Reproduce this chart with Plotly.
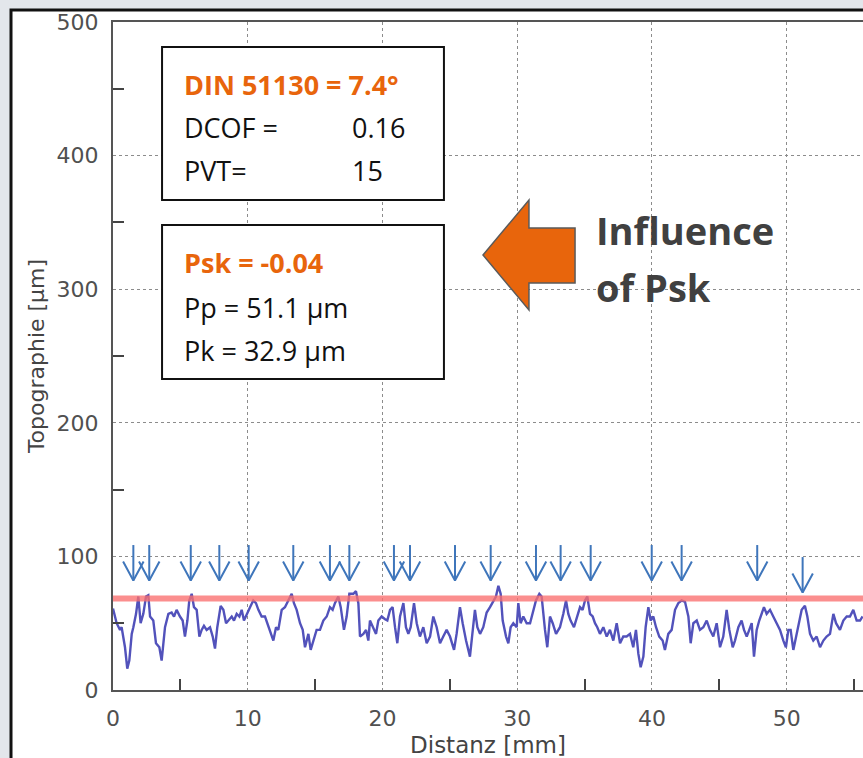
import plotly.graph_objects as go

# ---------------- data ----------------
dist_mm = [0.00, 0.27, 0.52, 0.64, 0.89, 1.06, 1.21, 1.39, 1.51, 1.71, 1.88, 2.05, 2.25, 2.45, 2.62, 2.75, 2.99,
           3.19, 3.44, 3.61, 3.74, 3.86, 4.11, 4.35, 4.53, 4.72, 4.97, 5.17, 5.34, 5.52, 5.66, 5.84, 6.01, 6.21,
           6.41, 6.58, 6.75, 6.95, 7.20, 7.40, 7.57, 7.74, 7.99, 8.19, 8.39, 8.56, 8.81, 8.98, 9.18, 9.38, 9.55,
           9.72, 9.92, 10.17, 10.41, 10.61, 10.79, 11.03, 11.28, 11.53, 11.70, 11.90, 12.10, 12.27, 12.52, 12.76,
           13.01, 13.26, 13.43, 13.63, 13.88, 14.08, 14.25, 14.50, 14.67, 14.87, 15.11, 15.36, 15.61, 15.86,
           16.10, 16.30, 16.47, 16.72, 16.90, 17.14, 17.34, 17.54, 17.84, 18.03, 18.21, 18.33, 18.58, 18.78,
           18.95, 19.07, 19.32, 19.52, 19.69, 19.94, 20.19, 20.36, 20.56, 20.75, 20.93, 21.10, 21.30, 21.55,
           21.74, 21.92, 22.09, 22.34, 22.54, 22.78, 23.03, 23.28, 23.53, 23.77, 24.02, 24.27, 24.51, 24.76,
           25.01, 25.31, 25.50, 25.75, 25.95, 26.20, 26.49, 26.69, 26.86, 27.04, 27.24, 27.48, 27.73, 27.98,
           28.22, 28.42, 28.60, 28.77, 28.92, 29.17, 29.34, 29.51, 29.71, 29.96, 30.08, 30.25, 30.45, 30.70,
           30.95, 31.19, 31.39, 31.64, 31.81, 32.06, 32.23, 32.43, 32.63, 32.88, 33.17, 33.42, 33.62, 33.79,
           33.96, 34.21, 34.46, 34.66, 34.85, 35.03, 35.20, 35.40, 35.60, 35.77, 35.94, 36.14, 36.39, 36.64,
           36.88, 37.13, 37.38, 37.63, 37.87, 38.12, 38.37, 38.61, 38.81, 38.99, 39.16, 39.36, 39.53, 39.73,
           39.90, 40.10, 40.30, 40.54, 40.79, 40.96, 41.21, 41.46, 41.71, 41.95, 42.20, 42.45, 42.70, 42.87,
           43.07, 43.32, 43.56, 43.81, 44.06, 44.30, 44.55, 44.80, 45.05, 45.29, 45.54, 45.74, 45.99, 46.16,
           46.41, 46.65, 46.83, 47.03, 47.22, 47.40, 47.57, 47.77, 47.96, 48.14, 48.31, 48.51, 48.76, 49.00,
           49.25, 49.50, 49.75, 49.94, 50.12, 50.29, 50.49, 50.69, 50.94, 51.11, 51.35, 51.53, 51.73, 51.97,
           52.22, 52.47, 52.72, 52.96, 53.21, 53.46, 53.66, 53.95, 54.20, 54.45, 54.69, 54.94, 55.19, 55.44,
           55.63]
topo_um = [61, 50, 45, 47, 32, 16, 22, 42, 47, 57, 70, 50, 57, 70, 71, 55, 52,
           35, 32, 22, 35, 47, 57, 58, 55, 60, 55, 52, 40, 52, 67, 72, 62, 60,
           40, 45, 48, 45, 47, 40, 31, 47, 63, 60, 50, 52, 55, 52, 57, 55, 60,
           52, 57, 62, 67, 65, 60, 55, 55, 47, 42, 37, 47, 45, 60, 62,
           67, 72, 65, 60, 50, 45, 32, 42, 30, 37, 45, 45, 52, 55,
           62, 60, 65, 70, 62, 45, 55, 72, 72, 74, 65, 40, 42, 45,
           37, 52, 47, 42, 52, 55, 53, 52, 60, 62, 47, 35, 55, 65,
           47, 42, 47, 65, 50, 40, 47, 35, 40, 55, 47, 35, 40, 45,
           40, 30, 42, 62, 50, 37, 25, 47, 60, 47, 42, 47, 58, 62,
           67, 70, 78, 72, 52, 40, 35, 47, 50, 47, 65, 50, 55, 50,
           50, 60, 67, 72, 70, 45, 32, 55, 50, 42, 47, 57, 67, 57,
           52, 47, 55, 62, 60, 67, 70, 57, 55, 50, 47, 42, 47, 40,
           45, 37, 50, 35, 40, 40, 42, 32, 45, 27, 17, 25, 47, 62,
           52, 55, 47, 40, 37, 30, 42, 45, 60, 65, 67, 66, 55, 35,
           50, 52, 45, 47, 52, 45, 40, 50, 32, 40, 60, 45, 32, 37,
           47, 52, 45, 40, 45, 50, 25, 45, 52, 57, 62, 57, 60, 55,
           50, 45, 37, 32, 45, 45, 30, 40, 50, 60, 63, 55, 42, 37,
           40, 32, 37, 40, 42, 57, 50, 45, 52, 55, 55, 60, 52, 52,
           55]

threshold_um = 68.5  # red reference level

peak_marks_mm = [1.51, 2.69, 5.77, 7.89, 10.07, 13.38, 16.10, 17.54, 20.85, 22.04, 25.38,
                 28.03, 31.39, 33.22, 35.45, 39.98, 42.20, 47.81, 51.18]
peak_mark_tip_um = [82, 82, 82, 82, 82, 82, 82, 82, 82, 82, 82,
                    82, 82, 82, 82, 82, 82, 82, 73]

x_ticks = [0, 10, 20, 30, 40, 50]
y_ticks = [0, 100, 200, 300, 400, 500]

X_MAX = 55.66
Y_MAX = 500

# ---------------- figure ----------------
fig = go.Figure()

fig.add_trace(go.Scatter(x=dist_mm, y=topo_um, mode="lines",
                         line=dict(color="#5252bb", width=2.4), hoverinfo="skip"))

fig.add_trace(go.Scatter(x=[0, X_MAX], y=[threshold_um, threshold_um], mode="lines",
                         line=dict(color="rgba(250,110,110,0.78)", width=6), hoverinfo="skip"))

# downward arrows marking peaks
ARROW_LEN = 26.5
HEAD_LEN = 14.2
HEAD_HALF = 0.76
ax, ay = [], []
for xm, tip in zip(peak_marks_mm, peak_mark_tip_um):
    ax += [xm, xm, None, xm - HEAD_HALF, xm, xm + HEAD_HALF, None]
    ay += [tip + ARROW_LEN, tip, None, tip + HEAD_LEN, tip, tip + HEAD_LEN, None]
fig.add_trace(go.Scatter(x=ax, y=ay, mode="lines",
                         line=dict(color="#3f76bb", width=2), hoverinfo="skip"))

shapes = [
    # outer black frame
    dict(type="rect", xref="paper", yref="paper", x0=-0.136, x1=1.2, y0=-0.3, y1=1.018,
         line=dict(color="#111111", width=3), fillcolor="white", layer="below"),
    # info boxes
    dict(type="rect", xref="x", yref="y", x0=3.64, x1=24.56, y0=366.8, y1=481.3,
         line=dict(color="#111111", width=2), fillcolor="white"),
    dict(type="rect", xref="x", yref="y", x0=3.64, x1=24.56, y0=232.8, y1=348.1,
         line=dict(color="#111111", width=2), fillcolor="white"),
    # orange block arrow
    dict(type="path", xref="x", yref="y",
         path="M 27.46,325.6 L 30.87,366.8 L 30.87,345.8 L 34.29,345.8 L 34.29,304.6 "
              "L 30.87,304.6 L 30.87,284.4 Z",
         fillcolor="#e8650c", line=dict(color="#5a5a5a", width=1.5)),
]

OR = "#e8650c"
BOX_FONT = "Open Sans"
ann = []
def txt(x, y, s, color="#111111", size=27, bold=False):
    ann.append(dict(x=x, y=y, xref="x", yref="y", text=(f"<b>{s}</b>" if bold else s),
                    showarrow=False, xanchor="left", yanchor="middle",
                    font=dict(family=BOX_FONT, size=size, color=color)))

txt(5.12, 453, "DIN 51130 = 7.4°", OR, bold=True)
txt(5.12, 421, "DCOF =")
txt(17.59, 421, "0.16")
txt(5.12, 389, "PVT=")
txt(17.59, 389, "15")
txt(5.12, 320, "Psk = -0.04", OR, bold=True)
txt(5.12, 286, "Pp = 51.1 µm")
txt(5.12, 254, "Pk = 32.9 µm")
txt(35.7, 344, "Influence", "#404040", size=38, bold=True)
txt(35.7, 302, "of Psk", "#404040", size=38, bold=True)

axis_font = dict(family="DejaVu Sans", size=22, color="#505050")

fig.update_layout(
    width=863, height=758, autosize=False,
    margin=dict(l=113, r=0, t=22, b=68, pad=0),
    paper_bgcolor="#e3e6eb", plot_bgcolor="rgba(0,0,0,0)",
    showlegend=False,
    shapes=shapes, annotations=ann,
    xaxis=dict(range=[0, X_MAX], tickvals=x_ticks, ticks="", showline=True, linecolor="#555555",
               linewidth=2, mirror=True, showgrid=True, gridcolor="#8c8c8c", griddash="dot",
               gridwidth=1, zeroline=False, tickfont=axis_font, ticklabelstandoff=8,
               automargin=False,
               minor=dict(tick0=5, dtick=10, ticks="inside", ticklen=11, tickwidth=2,
                          tickcolor="#444444", showgrid=False),
               title=dict(text="Distanz [mm]", font=dict(family="DejaVu Sans", size=23, color="#444444"),
                          standoff=6)),
    yaxis=dict(range=[0, Y_MAX], tickvals=y_ticks, ticks="", showline=True, linecolor="#555555",
               linewidth=2, mirror=True, showgrid=True, gridcolor="#8c8c8c", griddash="dot",
               gridwidth=1, zeroline=False, tickfont=axis_font, ticklabelstandoff=8,
               automargin=False,
               minor=dict(tick0=50, dtick=100, ticks="inside", ticklen=11, tickwidth=2,
                          tickcolor="#444444", showgrid=False),
               title=dict(text="Topographie [µm]", font=dict(family="DejaVu Sans", size=22, color="#444444"),
                          standoff=6)),
)

fig.write_html("out.html",
               config={"displayModeBar": False},
               post_script="document.body.style.margin='0';"
                           "document.body.style.background='#e3e6eb';"
                           "document.body.style.overflow='hidden';")
